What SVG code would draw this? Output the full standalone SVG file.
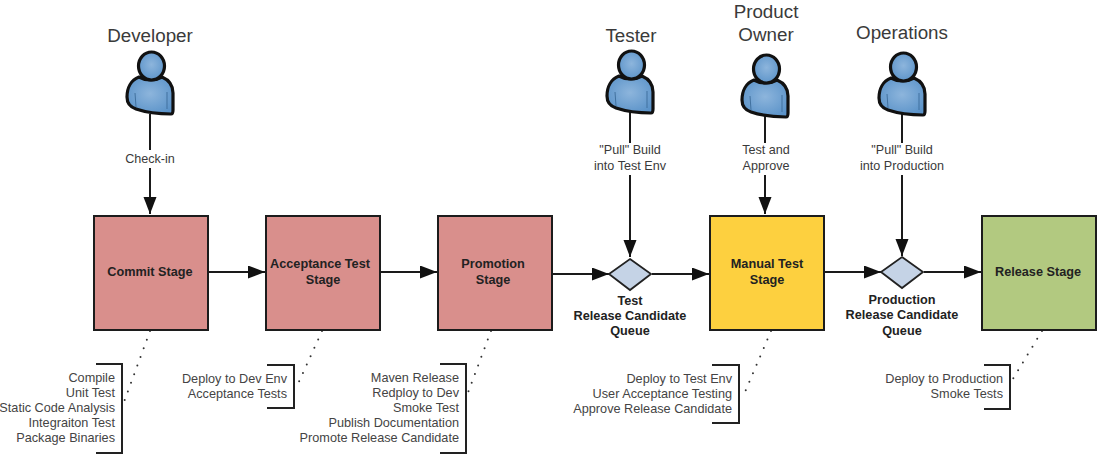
<svg xmlns="http://www.w3.org/2000/svg" xmlns:xlink="http://www.w3.org/1999/xlink" width="1097" height="454" viewBox="0 0 1097 454">
<style>
text{font-family:"Liberation Sans",Arial,sans-serif;fill:#3a3a3a}
.actor{font-size:18.8px;text-anchor:middle}
.lbl{font-size:12.6px;text-anchor:middle}
.st{font-size:12.7px;font-weight:bold;text-anchor:middle;fill:#222}
.note{font-size:12.7px;text-anchor:end;fill:#444}
.box{stroke:#1c1c1c;stroke-width:2}
.red{fill:#d98f8c}
.conn{fill:none;stroke:#1a1a1a;stroke-width:2}
.dot{fill:none;stroke:#333;stroke-width:2;stroke-linecap:round;stroke-dasharray:0 9.2}
.br{fill:none;stroke:#222;stroke-width:2}
.dia{fill:#c5d3e6;stroke:#222;stroke-width:1.8}
</style>
<defs>
<marker id="a" markerUnits="userSpaceOnUse" markerWidth="19" markerHeight="14" refX="17" refY="6.5" orient="auto"><path d="M0 0L17 6.5L0 13z" fill="#111"/></marker>
<radialGradient id="g" cx=".5" cy=".45" r=".6"><stop offset="0" stop-color="#8db5dc"/><stop offset="1" stop-color="#5b93c9"/></radialGradient>
<g id="person">
<path d="M-11 -4C-19 -1 -23 7 -23 16C-23 22 -20 26 -14 28C-5 31 10 33 21 33C23 33 23 31 23 29L23 12C23 5 19 -1 12 -4C5 0 -4 0 -11 -4Z" fill="url(#g)" stroke="#111" stroke-width="3.2" stroke-linejoin="round"/>
<ellipse cx="1.5" cy="-15" rx="13" ry="14" fill="url(#g)" stroke="#111" stroke-width="3.2"/>
<path d="M-15 12L-14 26M17 11L17 28" fill="none" stroke="#41719f" stroke-width="1"/>
</g>
</defs>
<rect width="1097" height="454" fill="#fff"/>
<g id="connectors">
<path class="conn" d="M150 114V150M150 168V214" marker-end="url(#a)"/>
<path class="conn" d="M209 272H265" marker-end="url(#a)"/>
<path class="conn" d="M381 272H437" marker-end="url(#a)"/>
<path class="conn" d="M552 274H609" marker-end="url(#a)"/>
<path class="conn" d="M652 274H709" marker-end="url(#a)"/>
<path class="conn" d="M825 272H881" marker-end="url(#a)"/>
<path class="conn" d="M924 272H981" marker-end="url(#a)"/>
<path class="conn" d="M630 112V143M630 175V257" marker-end="url(#a)"/>
<path class="conn" d="M765 116V143M765 175V214" marker-end="url(#a)"/>
<path class="conn" d="M902 114V143M902 175V256" marker-end="url(#a)"/>
<path class="dot" d="M150 331L124 402"/>
<path class="dot" d="M322 331L297 386"/>
<path class="dot" d="M491 331L466 398"/>
<path class="dot" d="M771 331L745 392"/>
<path class="dot" d="M1042 331L1011 382"/>
</g>
<g id="developer"><text class="actor" x="150" y="42">Developer</text><use xlink:href="#person" x="150" y="81"/></g>
<g id="tester"><text class="actor" x="631" y="42">Tester</text><use xlink:href="#person" x="630" y="80"/></g>
<g id="product-owner"><text class="actor" x="766" y="18">Product</text><text class="actor" x="766" y="41">Owner</text><use xlink:href="#person" x="765" y="84"/></g>
<g id="operations"><text class="actor" x="902" y="39">Operations</text><use xlink:href="#person" x="902" y="82"/></g>
<g id="check-in"><text class="lbl" x="150" y="163">Check-in</text></g>
<g id="pull-test"><text class="lbl" x="630" y="154">"Pull" Build</text><text class="lbl" x="630" y="170">into Test Env</text></g>
<g id="test-approve"><text class="lbl" x="766" y="154">Test and</text><text class="lbl" x="766" y="170">Approve</text></g>
<g id="pull-prod"><text class="lbl" x="902" y="154">"Pull" Build</text><text class="lbl" x="902" y="170">into Production</text></g>
<g id="commit"><rect class="box red" x="94" y="216" width="114" height="114"/><text class="st" x="150" y="276">Commit Stage</text></g>
<g id="acceptance"><rect class="box red" x="266" y="216" width="114" height="114"/><text class="st" x="320" y="268">Acceptance Test</text><text class="st" x="323" y="284">Stage</text></g>
<g id="promotion"><rect class="box red" x="438" y="216" width="114" height="114"/><text class="st" x="493" y="268">Promotion</text><text class="st" x="493" y="284">Stage</text></g>
<g id="manual"><rect class="box" x="710" y="216" width="114" height="114" fill="#fdd03f"/><text class="st" x="767" y="268">Manual Test</text><text class="st" x="767" y="284">Stage</text></g>
<g id="release"><rect class="box" x="982" y="216" width="114" height="114" fill="#b2c980"/><text class="st" x="1038" y="276">Release Stage</text></g>
<g id="test-queue"><path class="dia" d="M630 259L651 274L630 290L609 274Z"/><text class="st" x="630" y="305">Test</text><text class="st" x="630" y="320">Release Candidate</text><text class="st" x="630" y="335">Queue</text></g>
<g id="prod-queue"><path class="dia" d="M902 257L923 272L902 288L881 272Z"/><text class="st" x="902" y="304">Production</text><text class="st" x="902" y="319">Release Candidate</text><text class="st" x="902" y="335">Queue</text></g>
<g id="note-commit"><path class="br" d="M96 364H122V453H96"/><text class="note" x="115" y="382">Compile</text><text class="note" x="115" y="397">Unit Test</text><text class="note" x="115" y="412">Static Code Analysis</text><text class="note" x="115" y="427">Integraiton Test</text><text class="note" x="115" y="442">Package Binaries</text></g>
<g id="note-acceptance"><path class="br" d="M267 365H294V408H267"/><text class="note" x="287" y="383">Deploy to Dev Env</text><text class="note" x="287" y="398">Acceptance Tests</text></g>
<g id="note-promotion"><path class="br" d="M440 364H466V453H440"/><text class="note" x="459" y="382">Maven Release</text><text class="note" x="459" y="397">Redploy to Dev</text><text class="note" x="459" y="412">Smoke Test</text><text class="note" x="459" y="427">Publish Documentation</text><text class="note" x="459" y="442">Promote Release Candidate</text></g>
<g id="note-manual"><path class="br" d="M712 365H739V423H712"/><text class="note" x="732" y="383">Deploy to Test Env</text><text class="note" x="732" y="398">User Acceptance Testing</text><text class="note" x="732" y="413">Approve Release Candidate</text></g>
<g id="note-release"><path class="br" d="M984 365H1010V409H984"/><text class="note" x="1003" y="383">Deploy to Production</text><text class="note" x="1003" y="398">Smoke Tests</text></g>
</svg>
